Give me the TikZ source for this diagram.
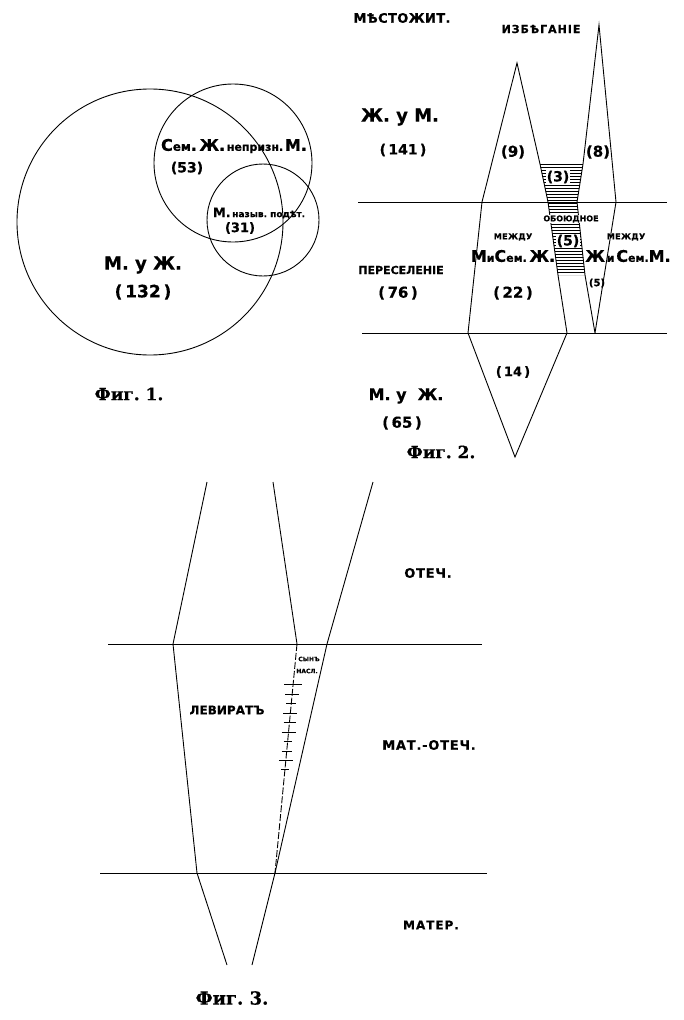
\documentclass[tikz,border=0pt]{standalone}
\usepackage{fontspec}
\setmainfont{DejaVu Sans}[BoldFeatures={FakeBold=0.6}]
\newfontfamily\figfont{DejaVu Serif}[BoldFeatures={FakeBold=0.6}]
\newcommand\fs[1]{\fontsize{#1}{#1}\selectfont}
\begin{document}
\begin{tikzpicture}[x=1pt,y=-1pt,line width=0.9pt,
  lbl/.style={inner sep=0pt,font=\bfseries},
  ring/.style={circle,draw,inner sep=0pt},
  hatchline/.style={line width=0.6pt},
  tick/.style={line width=0.6pt},
  white/.style={fill=white,inner sep=0.6pt}]
\useasboundingbox (0,0) rectangle (684,1020);

% ---------------- Fig. 1 ----------------
\node[ring,minimum size=266pt] (circA) at (150,222) {};
\node[ring,minimum size=158pt] (circB) at (233,163) {};
\node[ring,minimum size=112pt] (circC) at (263,220) {};
\node[lbl] (t53a) at (234,146) {{\fs{16}С}{\fs{12}ем}{\fs{16}.\,Ж.}\,{\fs{11}непризн.}\,{\fs{16}М.}};
\node[lbl] (t53) at (187,168) {\fs{14}(53)};
\node[lbl] (t31a) at (259,213) {{\fs{13}М.}{\fs{9}\,назыв.\ подѣт.}};
\node[lbl] (t31) at (240,228) {\fs{13}(31)};
\node[lbl] (t132a) at (143,265) {\fs{18}М.\ у\ Ж.};
\node[lbl] (t132) at (143,292) {\fs{17}(\,132\,)};
\node[lbl,font=\figfont\bfseries] (fig1) at (129,394) {\fs{17}Фиг.\ 1.};

% ---------------- Fig. 2 ----------------
\coordinate (p9) at (517,63);
\coordinate (p8) at (599,25);
\coordinate (a1) at (482,202);
\coordinate (a2) at (468,333);
\coordinate (b1) at (540,164);
\coordinate (b2) at (548,202);
\coordinate (b3) at (558,275);
\coordinate (b4) at (567,333);
\coordinate (c1) at (583,164);
\coordinate (c2) at (577,202);
\coordinate (c3) at (585,275);
\coordinate (c4) at (595,333);
\coordinate (d1) at (616,202);
\coordinate (bot) at (515,457);
\coordinate (h1l) at (358,202);
\coordinate (h1r) at (667,202);
\coordinate (h2l) at (362,333);
\coordinate (h2r) at (667,333);

\begin{scope}
  \clip (b1) -- (c1) -- (c2) -- (c3) -- (b3) -- (b2) -- cycle;
  \foreach \yy in {164.5,167.5,...,276} \draw[hatchline] (530,\yy) -- (600,\yy);
\end{scope}
\draw (a2) -- (a1) -- (p9) -- (b1) -- (b2) -- (b3) -- (b4);
\draw (a2) -- (bot) -- (b4);
\draw (c4) -- (c3) -- (c2) -- (c1) -- (p8) -- (d1) -- (c4);
\draw (h1l) -- (h1r);
\draw (h2l) -- (h2r);

\node[lbl] (mesto) at (402,18) {\fs{13}\addfontfeature{LetterSpace=3}МѢСТОЖИТ.};
\node[lbl] (izbeg) at (541,29) {\fs{11}\addfontfeature{LetterSpace=9}ИЗБѢГАНІЕ};
\node[lbl] (zhum) at (400,117) {\fs{18}Ж.\ у\ М.};
\node[lbl] (n141) at (403,150) {\fs{14}(\,141\,)};
\node[lbl] (n9) at (513,152) {\fs{15}(9)};
\node[lbl] (n8) at (598,152) {\fs{15}(8)};
\node[lbl,white] (n3) at (558,177) {\fs{14}(3)};
\node[lbl,white] (oboud) at (571,219) {\fs{8}ОБОЮДНОЕ};
\node[lbl] (mezh1) at (513,237) {\fs{8}\addfontfeature{LetterSpace=6}МЕЖДУ};
\node[lbl] (mezh2) at (626,237) {\fs{8}\addfontfeature{LetterSpace=6}МЕЖДУ};
\node[lbl,white] (n5a) at (568,241) {\fs{14}(5)};
\node[lbl] (misem) at (513,256) {{\fs{16}М}{\fs{11}и}{\fs{16}С}{\fs{11}ем.}{\fs{16}\,Ж.}};
\node[lbl] (zhisem) at (628,256) {{\fs{16}Ж}{\fs{11}\,и\,}{\fs{16}С}{\fs{11}ем.}{\fs{16}М.}};
\node[lbl] (n5b) at (597,283) {\fs{10}(5)};
\node[lbl] (peres) at (401,270) {\fs{11}ПЕРЕСЕЛЕНІЕ};
\node[lbl] (n76) at (398,293) {\fs{15}(\,76\,)};
\node[lbl] (n22) at (513,293) {\fs{15}(\,22\,)};
\node[lbl] (n14) at (513,372) {\fs{13}(\,14\,)};
\node[lbl] (muzh) at (406,396) {\fs{16}М.\ у\ \ Ж.};
\node[lbl] (n65) at (402,423) {\fs{15}(\,65\,)};
\node[lbl,font=\figfont\bfseries] (fig2) at (441,452) {\fs{17}Фиг.\ 2.};

% ---------------- Fig. 3 ----------------
\coordinate (l0) at (207,482);
\coordinate (l1) at (173,644);
\coordinate (l2) at (197,873);
\coordinate (l3) at (227,965);
\coordinate (m0) at (273,482);
\coordinate (m1) at (297,644);
\coordinate (m2) at (275,873);
\coordinate (r0) at (373,482);
\coordinate (r1) at (327,644);
\coordinate (r3) at (252,965);
\coordinate (g1l) at (108,644);
\coordinate (g1r) at (482,644);
\coordinate (g2l) at (100,873);
\coordinate (g2r) at (487,873);

\draw (g1l) -- (g1r);
\draw (g2l) -- (g2r);
\draw (l0) -- (l1) -- (l2) -- (l3);
\draw (m0) -- (m1);
\draw[dash pattern=on 7pt off 2pt] (m1) -- (m2);
\draw (r0) -- (r1) -- (m2) -- (r3);
\foreach \yy/\ww in {684/9,694/7,703/5,713/7,722/6,732/7,741/4,751/5,760/7,769/4}
  \draw[tick] ({297-22*(\yy-644)/229-\ww},\yy) -- ++(2*\ww,0);

\node[lbl] (otech) at (428,573) {\fs{13}\addfontfeature{LetterSpace=6}ОТЕЧ.};
\node[lbl] (syn) at (309,659) {\fs{6}СЫНЪ};
\node[lbl] (nasl) at (307,671) {\fs{6}НАСЛ.};
\node[lbl] (levir) at (227,710) {\fs{12}ЛЕВИРАТЪ};
\node[lbl] (matotech) at (429,745) {\fs{13}\addfontfeature{LetterSpace=6}МАТ.-ОТЕЧ.};
\node[lbl] (mater) at (431,925) {\fs{12}\addfontfeature{LetterSpace=8}МАТЕР.};
\node[lbl,font=\figfont\bfseries] (fig3) at (232,998) {\fs{18}Фиг.\ 3.};
\end{tikzpicture}
\end{document}
